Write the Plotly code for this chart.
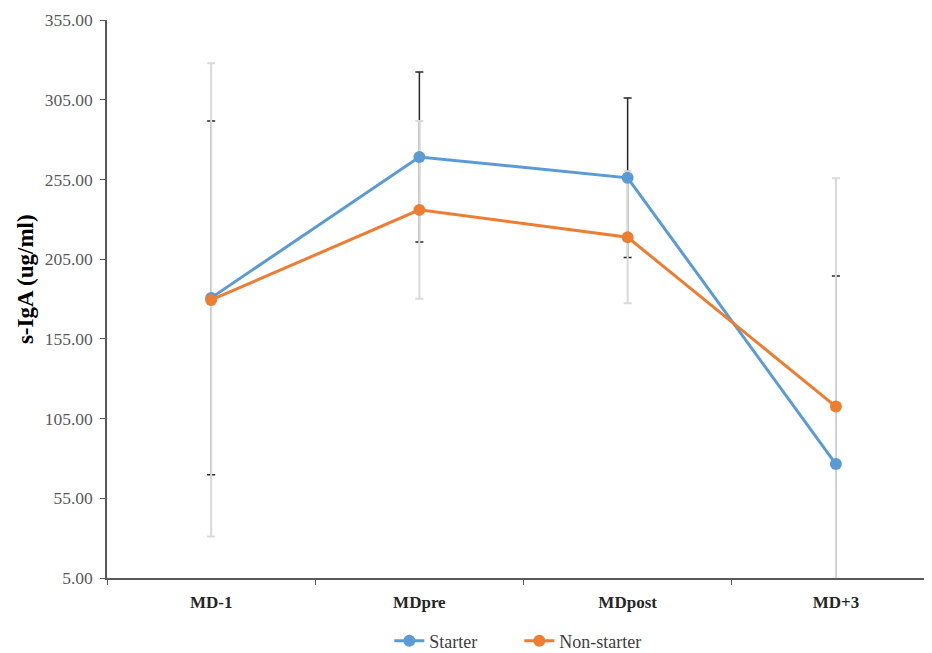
import plotly.graph_objects as go

categories = ["MD-1", "MDpre", "MDpost", "MD+3"]
starter = [180.7, 269.1, 256.0, 76.5]
starter_err = [111.0, 53.3, 50.0, 118.0]
non_starter = [179.4, 235.9, 218.7, 112.5]
non_starter_err = [148.4, 55.8, 41.4, 143.3]
y_ticks = [5, 55, 105, 155, 205, 255, 305, 355]

blue = "#5B9BD5"
orange = "#ED7D31"
font_family = "Liberation Serif, Times New Roman, serif"

fig = go.Figure()

# error bars drawn first (below lines)
fig.add_trace(go.Scatter(
    x=categories, y=starter, mode="markers",
    marker=dict(opacity=0, size=1), showlegend=False, hoverinfo="skip",
    error_y=dict(type="data", array=starter_err, visible=True,
                 color="#262626", thickness=1.5, width=4)))
fig.add_trace(go.Scatter(
    x=categories, y=non_starter, mode="markers",
    marker=dict(opacity=0, size=1), showlegend=False, hoverinfo="skip",
    error_y=dict(type="data", array=non_starter_err, visible=True,
                 color="#D9D9D9", thickness=2, width=4)))

fig.add_trace(go.Scatter(
    x=categories, y=starter, mode="lines+markers", name="Starter",
    line=dict(color=blue, width=3), marker=dict(color=blue, size=12)))
fig.add_trace(go.Scatter(
    x=categories, y=non_starter, mode="lines+markers", name="Non-starter",
    line=dict(color=orange, width=3), marker=dict(color=orange, size=12)))

fig.update_layout(
    width=932, height=653,
    margin=dict(l=99, r=0, t=12, b=83, autoexpand=False),
    paper_bgcolor="white", plot_bgcolor="white",
    font=dict(family=font_family, color="#404040"),
    showlegend=True,
    legend=dict(orientation="h", x=0.495, xanchor="center", y=-0.113, yanchor="middle",
                font=dict(size=18, color="#404040", family=font_family),
                entrywidth=85, tracegroupgap=0),
    xaxis=dict(
        type="category", range=[-0.5, 3.5],
        showline=True, linecolor="#595959", linewidth=1.5,
        showgrid=False, zeroline=False,
        ticks="outside", tickson="boundaries", ticklen=5, tickcolor="#595959",
        tickfont=dict(size=17, color="#262626", family=font_family),
        tickprefix="<b>", ticksuffix="</b>",
        ticklabelstandoff=8),
    yaxis=dict(
        range=[5, 355], tickvals=y_ticks,
        ticktext=[f"{v:.2f}" for v in y_ticks],
        showline=True, linecolor="#595959", linewidth=1.5,
        showgrid=False, zeroline=False,
        ticks="outside", ticklen=5, tickcolor="#595959",
        tickfont=dict(size=17.5, color="#595959", family=font_family),
        ticklabelstandoff=4),
    annotations=[dict(
        text="<b>s-IgA (ug/ml)</b>", textangle=-90,
        xref="paper", yref="paper", x=-0.097, y=0.536,
        xanchor="center", yanchor="middle", showarrow=False,
        font=dict(size=23, color="#000000", family=font_family))],
)

fig.write_html("out.html")
